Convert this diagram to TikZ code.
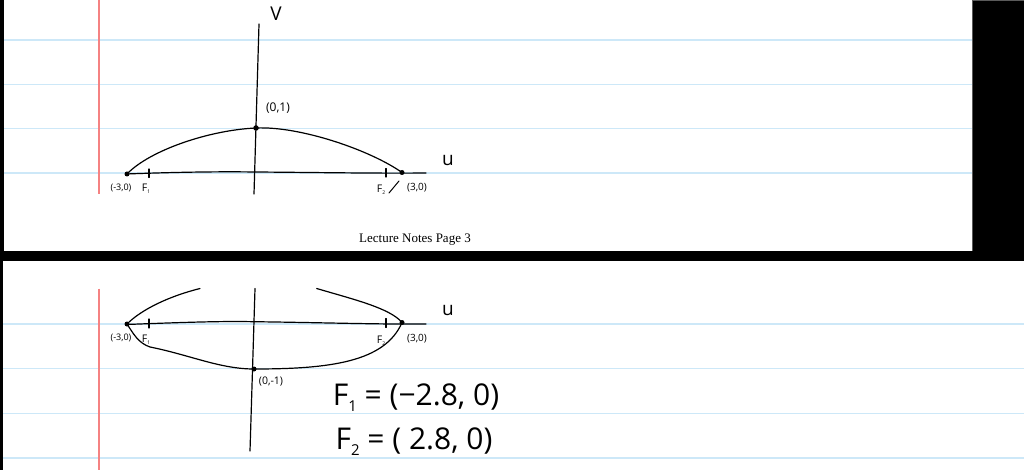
\documentclass[tikz,border=0pt]{standalone}
\usepackage{fontspec}
\setmainfont{Open Sans}
\newfontfamily\serifnote{Liberation Serif}
\definecolor{ruleblue}{RGB}{205,232,248}
\definecolor{marginred}{RGB}{245,130,130}
\definecolor{edgegray}{RGB}{90,90,90}
\begin{document}
\begin{tikzpicture}[x=1pt,y=-1pt,
  ink/.style={line width=1.2pt, black, line cap=round},
  rule/.style={line width=1.5pt, ruleblue},
  margin/.style={line width=1.6pt, marginred},
  dotmark/.style={circle, fill=black, inner sep=0pt, minimum size=5pt},
  smalllbl/.style={font=\fontsize{9}{9}\selectfont, inner sep=0pt},
  flbl/.style={font=\fontsize{10.5}{10.5}\selectfont, inner sep=0pt},
  axislbl/.style={font=\fontsize{19}{19}\selectfont, inner sep=0pt},
  biglbl/.style={font=\fontsize{30}{30}\selectfont, inner sep=0pt}]
\useasboundingbox (0,0) rectangle (1024,470);
% page backgrounds
\fill[black] (0,0) rectangle (1024,470);
\fill[white] (4,0) rectangle (972,251);
\fill[white] (3,261) rectangle (1024,470);
\draw[edgegray, line width=0.8pt] (972.4,0) -- (972.4,251);
\draw[edgegray, line width=0.8pt] (972,0.4) -- (1024,0.4);
% ruled lines, top page
\foreach \yy in {40,84.3,128.7,173} \draw[rule] (4,\yy) -- (972,\yy);
% ruled lines, bottom page
\foreach \yy in {324,368.5,413.3,458} \draw[rule] (3,\yy) -- (1024,\yy);
% margins
\draw[margin] (98.7,0) -- (98.7,194);
\draw[margin] (98.7,288.5) -- (98.7,470);

% ===== top sketch =====
\node[dotmark] (tA) at (127,174) {};
\node[dotmark, minimum size=5.5pt] (tT) at (256,128) {};
\node[dotmark] (tB) at (402,172.5) {};
\coordinate (tuL) at (126,174);
\coordinate (tuM) at (256,172);
\coordinate (tuR) at (426,173);
\coordinate (tvT) at (259,24);
\coordinate (tvB) at (254,194);
\draw[ink] (tvT) -- (tvB);
\draw[ink] (tuL) .. controls (180,172) and (220,171.5) .. (tuM)
              .. controls (320,172.5) and (380,173.5) .. (tuR);
\draw[ink] (tA.center) .. controls (150,150) and (210,130) .. (tT.center)
              .. controls (300,126) and (370,150) .. (tB.center);
\coordinate (tk1a) at (149,169); \coordinate (tk1b) at (149,177.5);
\coordinate (tk2a) at (386,168.5); \coordinate (tk2b) at (386,177);
\draw[ink] (tk1a) -- (tk1b);
\draw[ink] (tk2a) -- (tk2b);
\coordinate (ts1) at (399,181); \coordinate (ts2) at (389,193);
\draw[ink, line width=1pt] (ts1) -- (ts2);
\node[axislbl] (tV) at (276,14) {V};
\node[axislbl] (tU) at (448,161) {u};
\node[smalllbl, font=\fontsize{12}{12}\selectfont] (tTl) at (278,108) {(0,1)};
\node[smalllbl] (tAl) at (121,188) {(-3,0)};
\node[flbl] (tF1) at (146,189) {F\raisebox{-2pt}{\tiny 1}};
\node[flbl] (tF2) at (381,189.5) {F\raisebox{-2pt}{\tiny 2}};
\node[smalllbl, font=\fontsize{10}{10}\selectfont] (tBl) at (417,188) {(3,0)};
\node[font=\serifnote\fontsize{13}{13}\selectfont, inner sep=0pt] (page) at (415,240) {Lecture Notes Page 3};

% ===== bottom sketch =====
\node[dotmark] (bA) at (127,324) {};
\node[dotmark] (bT) at (254,369) {};
\node[dotmark] (bB) at (402,322.5) {};
\coordinate (buL) at (126,324.5);
\coordinate (buM) at (253,321.7);
\coordinate (buR) at (426,324);
\coordinate (bvT) at (255,288.5);
\coordinate (bvB) at (250,451);
\draw[ink] (bvT) -- (bvB);
\draw[ink] (buL) .. controls (180,322.5) and (220,321) .. (buM)
              .. controls (320,322.5) and (380,324.5) .. (buR);
% partial upper arcs
\coordinate (bl1) at (200,288.5);
\coordinate (br1) at (316.7,288.5);
\draw[ink] (bA.center) .. controls (142,309) and (170,296) .. (bl1);
\draw[ink] (br1) .. controls (352,299) and (390,308) .. (bB.center);
% lower half
\coordinate (bm1) at (150,347);
\draw[ink] (bA.center) .. controls (133,333) and (138,343) .. (bm1)
              .. controls (190,355) and (220,369) .. (bT.center)
              .. controls (330,369) and (385,362) .. (bB.center);
\coordinate (bk1a) at (149,319); \coordinate (bk1b) at (149,328);
\coordinate (bk2a) at (386,318.5); \coordinate (bk2b) at (386,327.5);
\draw[ink] (bk1a) -- (bk1b);
\draw[ink] (bk2a) -- (bk2b);
\node[axislbl] (bU) at (448,311) {u};
\node[smalllbl] (bAl) at (121,338) {(-3,0)};
\node[flbl] (bF1) at (146,339.5) {F\raisebox{-2pt}{\tiny 1}};
\node[flbl] (bF2) at (381,341) {F\raisebox{-2pt}{\tiny 2}};
\node[smalllbl, font=\fontsize{10}{10}\selectfont] (bBl) at (417,338.5) {(3,0)};
\node[smalllbl, font=\fontsize{10.5}{10.5}\selectfont] (bTl) at (271,382) {(0,-1)};
\node[biglbl] (f1) at (416,398) {F\raisebox{-6pt}{\fontsize{15}{15}\selectfont 1} = (−2.8, 0)};
\node[biglbl] (f2) at (414,442) {F\raisebox{-6pt}{\fontsize{15}{15}\selectfont 2} = ( 2.8, 0)};
\end{tikzpicture}
\end{document}
